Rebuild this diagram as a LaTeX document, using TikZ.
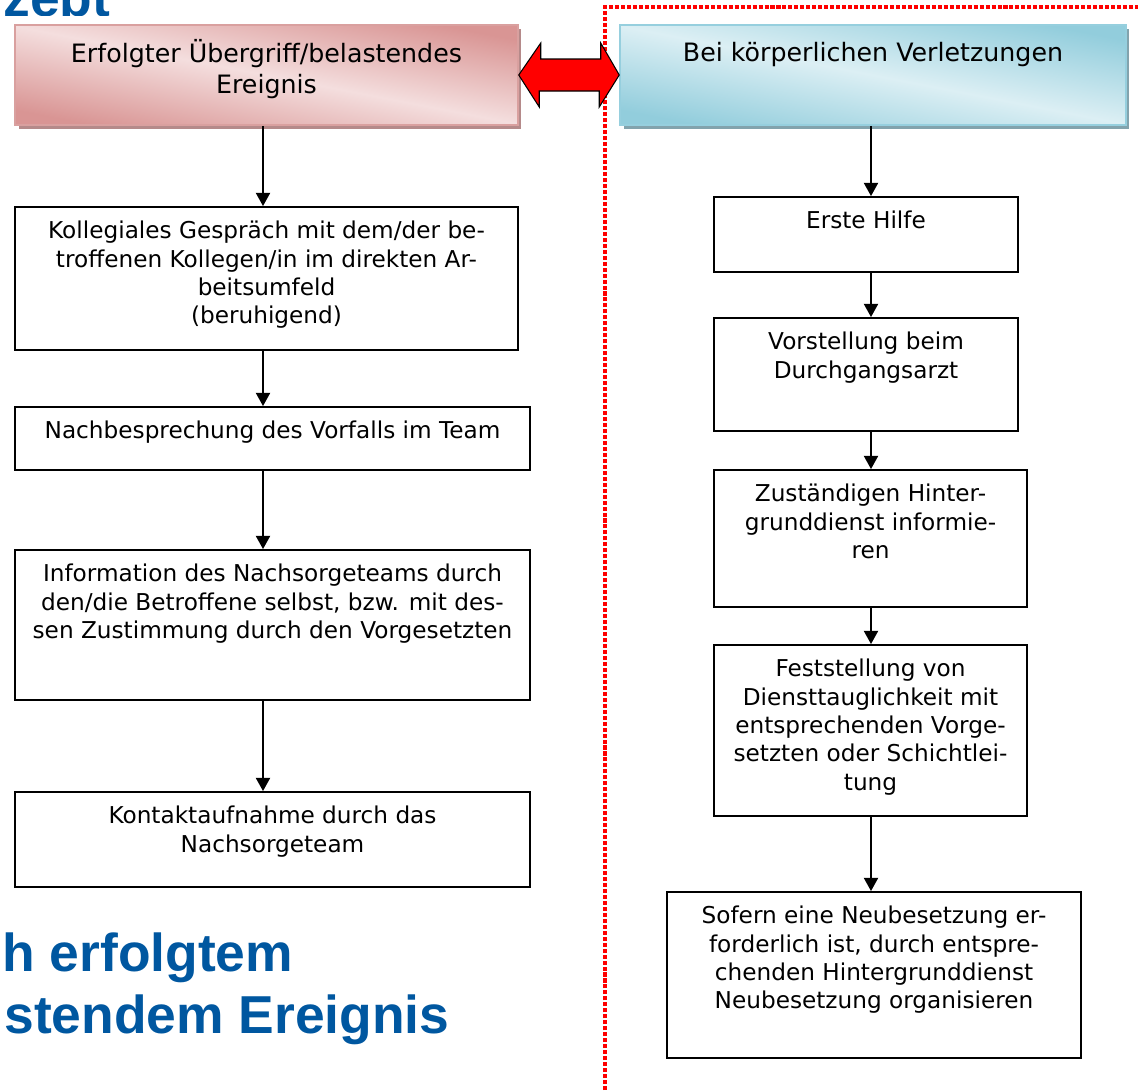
\documentclass[tikz,border=0pt]{standalone}
\usepackage{fontspec}
\setmainfont{DejaVu Sans}
\newfontfamily\titlefont{Liberation Sans}
\usetikzlibrary{arrows.meta, shadows, positioning}

\definecolor{hdrRedDark}{RGB}{217,149,148}
\definecolor{hdrRedLight}{RGB}{244,222,222}
\definecolor{hdrRedBorder}{RGB}{217,160,159}
\definecolor{hdrRedShadow}{RGB}{181,138,138}
\definecolor{hdrBlueDark}{RGB}{146,205,220}
\definecolor{hdrBlueLight}{RGB}{220,239,244}
\definecolor{hdrBlueBorder}{RGB}{150,207,222}
\definecolor{hdrBlueShadow}{RGB}{130,163,173}
\definecolor{titleBlue}{RGB}{0,87,160}

% text of a box: fixed size, lines start at the top
\newcommand{\boxtxt}[4][6.6pt]{\parbox[c][#3][t]{#2}{\centering\vspace*{#1}\strut #4}}

\begin{document}
\begin{tikzpicture}[
    x=0.02cm, y=-0.02cm, % one unit = one pixel of the layout, y runs downwards
    >={Triangle[length=7.5pt, width=8pt]}, % Default arrow tip
    stepbox/.style={draw, line width=1.1pt, fill=white, inner sep=0pt,
        font=\fontsize{13.2}{16.2}\selectfont}, % Style for the step boxes
    headbox/.style={draw=#1Border, line width=0.9pt, inner sep=0pt,
        top color=#1Dark, bottom color=#1Dark, middle color=#1Light, shading angle=-11,
        drop shadow={shadow xshift=0.07cm, shadow yshift=-0.07cm, fill=#1Shadow, opacity=1},
        font=\fontsize{14.4}{17.6}\selectfont}, % Style for the two headers
    flow/.style={->, line width=1.1pt}, % Style for the arrows between steps
    dblarrow/.style={fill=red, draw=black, line width=0.6pt, line join=miter}, % Red double arrow
    frame/.style={red, line width=1.9pt, dash pattern=on 2.3pt off 1.1pt}, % Red dotted frame
    title/.style={font=\titlefont\bfseries\fontsize{30.4}{35.2}\selectfont, text=titleBlue, inner sep=0pt}
]
    \useasboundingbox (0,0) rectangle (1138,1090);

    % --- Title remains ---
    \begin{scope}
        \clip (0,0) rectangle (200,15);
        \node[title, anchor=base west] (kopf) at (3,16) {zept};
    \end{scope}
    \node[title, anchor=base west] (zeileA) at (2,971) {h erfolgtem};
    \node[title, anchor=base west] (zeileB) at (4,1033) {stendem Ereignis};

    % --- Red dotted frame ---
    \draw[frame] (605,1090) -- (605,7) -- (1138,7);

    % Column axes
    \coordinate (axL) at (263,0);
    \coordinate (axR) at (871,0);

    % --- Left column ---
    \node[headbox=hdrRed] (hdrL) at (266.5,75)
        {\boxtxt[8.2pt]{10.06cm}{2cm}{Erfolgter Übergriff/belastendes\\Ereignis}};
    \node[stepbox] (gespraech) at (266.5,278.5)
        {\boxtxt{10.06cm}{2.86cm}{Kollegiales Gespräch mit dem/der be-\\troffenen Kollegen/in im direkten Ar-\\beitsumfeld\\(beruhigend)}};
    \node[stepbox] (nachbespr) at (272.5,438.5)
        {\boxtxt{10.3cm}{1.26cm}{Nachbesprechung des Vorfalls im Team}};
    \node[stepbox] (info) at (272.5,625)
        {\boxtxt{10.3cm}{3cm}{Information des Nachsorgeteams durch\\den/die Betroffene selbst, bzw. mit des-\\sen Zustimmung durch den Vorgesetzten}};
    \node[stepbox] (kontakt) at (272.5,839.5)
        {\boxtxt{10.3cm}{1.9cm}{Kontaktaufnahme durch das\\Nachsorgeteam}};

    \draw[flow] (hdrL.south -| axL) -- (gespraech.north -| axL);
    \draw[flow] (gespraech.south -| axL) -- (nachbespr.north -| axL);
    \draw[flow] (nachbespr.south -| axL) -- (info.north -| axL);
    \draw[flow] (info.south -| axL) -- (kontakt.north -| axL);

    % --- Right column ---
    \node[headbox=hdrBlue] (hdrR) at (873,75)
        {\boxtxt[8.2pt]{10.12cm}{2cm}{Bei körperlichen Verletzungen}};
    \node[stepbox] (hilfe) at (866,234.5)
        {\boxtxt{6.08cm}{1.5cm}{Erste Hilfe}};
    \node[stepbox] (vorst) at (866,374.5)
        {\boxtxt{6.08cm}{2.26cm}{Vorstellung beim\\Durchgangsarzt}};
    \node[stepbox] (zust) at (870.5,538.5)
        {\boxtxt{6.26cm}{2.74cm}{Zuständigen Hinter-\\grunddienst informie-\\ren}};
    \node[stepbox] (fest) at (870.5,730.5)
        {\boxtxt{6.26cm}{3.42cm}{Feststellung von\\Diensttauglichkeit mit\\entsprechenden Vorge-\\setzten oder Schichtlei-\\tung}};
    \node[stepbox] (sofern) at (874,975)
        {\boxtxt{8.28cm}{3.32cm}{Sofern eine Neubesetzung er-\\forderlich ist, durch entspre-\\chenden Hintergrunddienst\\Neubesetzung organisieren}};

    \draw[flow] (hdrR.south -| axR) -- (hilfe.north -| axR);
    \draw[flow] (hilfe.south -| axR) -- (vorst.north -| axR);
    \draw[flow] (vorst.south -| axR) -- (zust.north -| axR);
    \draw[flow] (zust.south -| axR) -- (fest.north -| axR);
    \draw[flow] (fest.south -| axR) -- (sofern.north -| axR);

    % --- Double arrow between the headers ---
    \draw[dblarrow] (hdrL.east) -- ++(22,-32) -- ++(0,16) -- ++(60,0) -- ++(0,-16)
        -- (hdrR.west) -- ++(-20,32) -- ++(0,-16) -- ++(-60,0) -- ++(0,16) -- cycle;

\end{tikzpicture}
\end{document}
